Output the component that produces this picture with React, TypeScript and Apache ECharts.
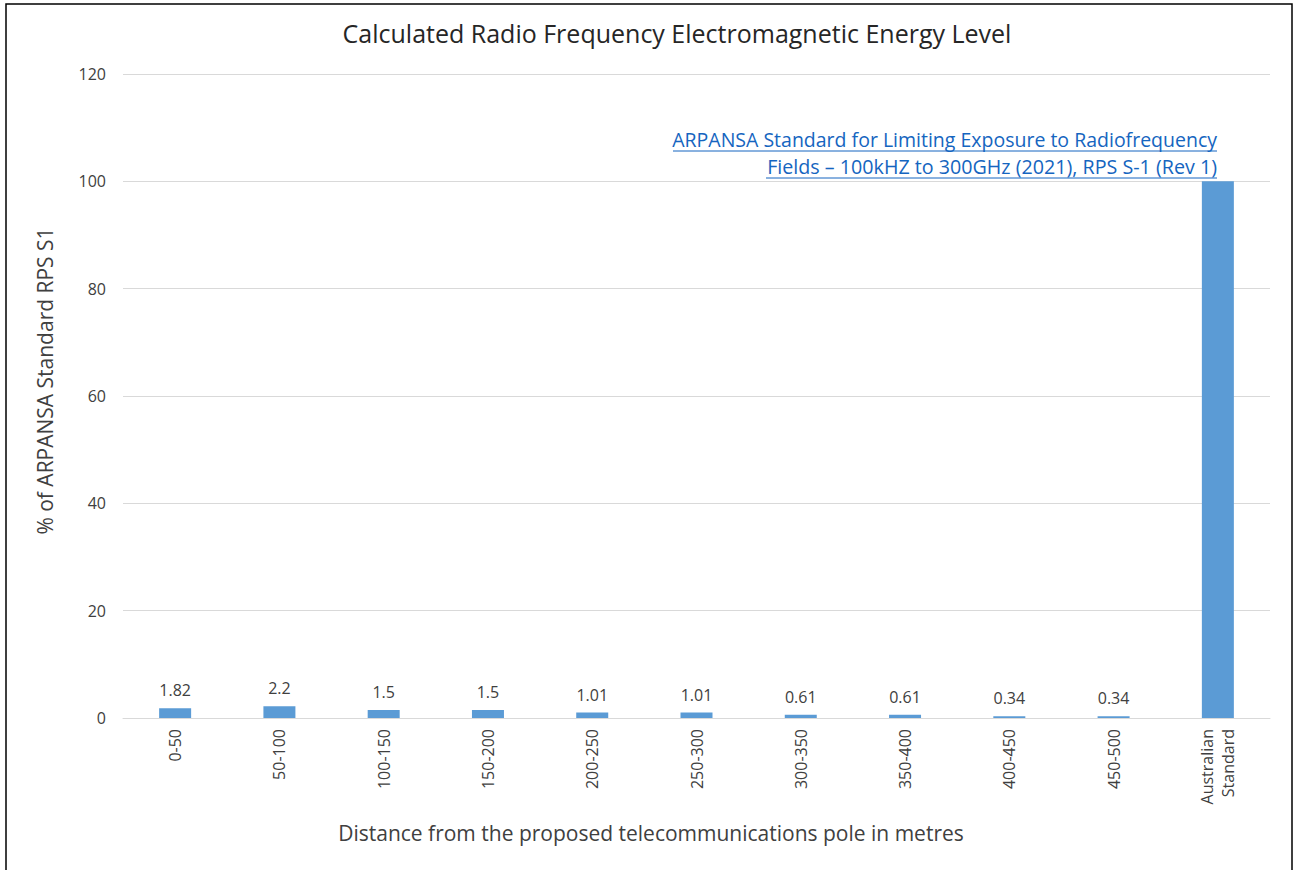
import React, { useEffect, useRef } from "react";
import * as echarts from "echarts";

const categories = ["0-50", "50-100", "100-150", "150-200", "200-250", "250-300", "300-350", "350-400", "400-450", "450-500", "Australian\nStandard"];
const values = [1.82, 2.2, 1.5, 1.5, 1.01, 1.01, 0.61, 0.61, 0.34, 0.34, 100];
const yTicks = { min: 0, max: 120, interval: 20 };
const titleText = "Calculated Radio Frequency Electromagnetic Energy Level";
const yName = "% of ARPANSA Standard RPS S1";
const xName = "Distance from the proposed telecommunications pole in metres";
const noteLines = ["ARPANSA Standard for Limiting Exposure to Radiofrequency", "Fields \u2013 100kHZ to 300GHz (2021), RPS S-1 (Rev 1)"];

const FONT = "'Open Sans', sans-serif";

export default function App() {
  const ref = useRef<HTMLDivElement>(null);
  useEffect(() => {
    const chart = echarts.init(ref.current!, null, { renderer: "svg" });
    chart.setOption({
      animation: false,
      backgroundColor: "#ffffff",
      textStyle: { fontFamily: FONT },
      title: {
        text: titleText,
        left: 672,
        textAlign: "center",
        top: 15,
        textStyle: { fontFamily: FONT, fontSize: 25, fontWeight: "normal", color: "#262626" },
      },
      grid: { left: 123, right: 28, top: 74, bottom: 152, containLabel: false },
      xAxis: {
        type: "category",
        data: categories,
        axisLine: { lineStyle: { color: "#d9d9d9" } },
        axisTick: { show: false },
        axisLabel: { rotate: 90, color: "#404040", fontSize: 16, fontFamily: FONT, margin: 11, lineHeight: 21 },
      },
      yAxis: {
        type: "value",
        min: yTicks.min,
        max: yTicks.max,
        interval: yTicks.interval,
        axisLine: { show: false },
        axisTick: { show: false },
        splitLine: { lineStyle: { color: "#d9d9d9" } },
        axisLabel: { color: "#404040", fontSize: 16, fontFamily: FONT, margin: 17 },
      },
      series: [
        {
          type: "bar",
          data: values.map((v, i) => ({
            value: v,
            label: { show: i < values.length - 1 },
          })),
          barWidth: 32,
          itemStyle: { color: "#5b9bd5" },
          label: {
            show: true,
            position: "top",
            distance: 10,
            color: "#404040",
            fontSize: 16,
            fontFamily: FONT,
          },
        },
      ],
      graphic: [
        {
          type: "rect",
          shape: { x: 6, y: 4, width: 1286, height: 900 },
          style: { fill: "none", stroke: "#000000", lineWidth: 1.5 },
          silent: true,
        },
        {
          type: "text",
          x: 45,
          y: 381,
          rotation: Math.PI / 2,
          style: { text: yName, fontSize: 21, fontFamily: FONT, fill: "#404040", align: "center", verticalAlign: "middle" },
        },
        {
          type: "text",
          x: 651,
          y: 833,
          style: { text: xName, fontSize: 21, fontFamily: FONT, fill: "#404040", align: "center", verticalAlign: "middle" },
        },
        {
          type: "text",
          x: 1217,
          y: 139,
          style: { text: noteLines[0], fontSize: 19.5, fontFamily: FONT, fill: "#1565c0", align: "right", verticalAlign: "middle" },
        },
        {
          type: "text",
          x: 1217,
          y: 166,
          style: { text: noteLines[1], fontSize: 19.7, fontFamily: FONT, fill: "#1565c0", align: "right", verticalAlign: "middle" },
        },
        {
          type: "line",
          shape: { x1: 673, y1: 151, x2: 1217, y2: 151 },
          style: { stroke: "#1565c0", lineWidth: 1 },
        },
        {
          type: "line",
          shape: { x1: 766, y1: 178, x2: 1217, y2: 178 },
          style: { stroke: "#1565c0", lineWidth: 1 },
        },
      ],
    });
    return () => chart.dispose();
  }, []);
  return <div ref={ref} style={{ position: "fixed", left: 0, top: 0, width: 1298, height: 870 }} />;
}
